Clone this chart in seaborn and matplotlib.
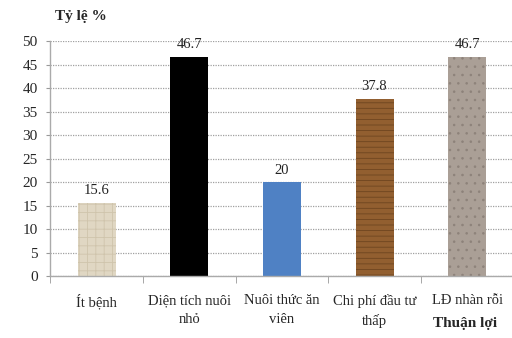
import matplotlib
matplotlib.use("Agg")
import matplotlib.pyplot as plt
import numpy as np
import pandas as pd
import seaborn as sns

# data
categories = ["Ít bệnh", "Diện tích nuôi\nnhỏ", "Nuôi thức ăn\nviên", "Chi phí đầu tư\nthấp", "LĐ nhàn rỗi"]
values = [15.6, 46.7, 20, 37.8, 46.7]
value_labels = ["15.6", "46.7", "20", "37.8", "46.7"]

# textures approximated by fill colour + hatch
colors = ["#e0d7c3", "#000000", "#4f81c4", "#925f30", "#aa9f96"]
hatch_colors = ["#cfc4ac", "#000000", "#4f81c4", "#6e4520", "#8d827a"]
hatches = ["++", None, None, "---", ".."]

df = pd.DataFrame({"cat": categories, "val": values})

sns.set_style("white")
plt.rcParams["font.family"] = ["Liberation Serif", "DejaVu Serif"]
plt.rcParams["hatch.linewidth"] = 0.6

fig = plt.figure(figsize=(5.12, 3.38), dpi=100)
ax = fig.add_axes([0.098, 0.183, 0.905, 0.695])

sns.barplot(data=df, x="cat", y="val", ax=ax, width=0.41, saturation=1,
            palette=colors, hue="cat", legend=False)

for bar, hc, h in zip(ax.patches, hatch_colors, hatches):
    bar.set_edgecolor(hc)
    bar.set_linewidth(0)
    if h:
        bar.set_hatch(h)

for i, (v, lab) in enumerate(zip(values, value_labels)):
    ax.text(i, v + 1.2, lab, ha="center", va="bottom", fontsize=10.5, color="#222222")

ax.set_ylim(0, 50)
ax.set_xlim(-0.5, 4.5)
ax.set_yticks(np.arange(0, 51, 5))
ax.yaxis.grid(True, linestyle=(0, (1, 1)), color="#a0a0a0", linewidth=0.9)
ax.set_axisbelow(True)

ax.set_xlabel("")
ax.set_ylabel("")
ax.tick_params(axis="y", labelsize=11, length=3, color="#999999", direction="out", left=True, pad=6)
ax.tick_params(axis="x", labelsize=10.5, length=0, pad=13)
for t in ax.get_xticklabels():
    t.set_linespacing(1.55)

# category boundary ticks
ax.set_xticks(np.arange(-0.5, 4.6, 1), minor=True)
ax.tick_params(axis="x", which="minor", length=5, color="#999999", direction="out", bottom=True)

for s in ["top", "right"]:
    ax.spines[s].set_visible(False)
for s in ["left", "bottom"]:
    ax.spines[s].set_color("#aaaaaa")
    ax.spines[s].set_linewidth(1)

fig.text(0.107, 0.95, "Tỷ lệ %", fontsize=11, fontweight="bold", ha="left", va="center")
fig.text(0.845, 0.042, "Thuận lợi", fontsize=11, fontweight="bold", ha="left", va="center")

fig.savefig("out.png", dpi=100)
